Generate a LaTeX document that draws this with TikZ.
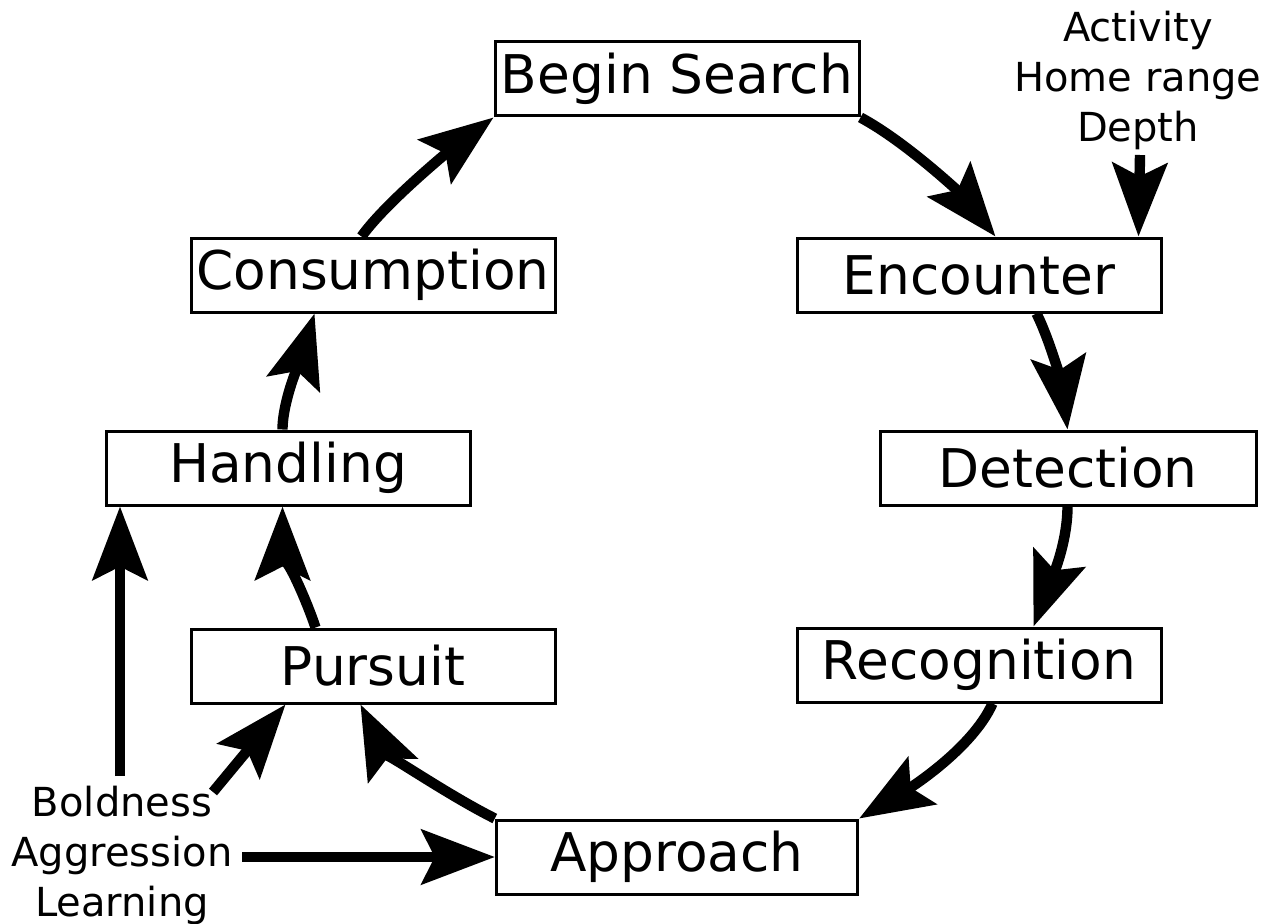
\documentclass[tikz,border=0pt]{standalone}
\usepackage{fontspec}
\setmainfont{DejaVu Sans}
\usetikzlibrary{arrows.meta,calc}
\begin{document}
\begin{tikzpicture}[x=0.75pt,y=-0.75pt,
  box/.style={draw,line width=2.25pt,minimum width=273pt,minimum height=55.5pt,inner sep=0pt,font=\fontsize{40}{48}\selectfont},
  lbl/.style={align=center,font=\fontsize{30}{37.5}\selectfont,inner sep=0pt},
  arr/.style={line width=7.8pt,-{Stealth[length=55pt,width=41pt,inset=10pt]}}]
\useasboundingbox (0,0) rectangle (1282,924);
% boxes
\node[box] (bs)  at (677,79)  {Begin Search};
\node[box] (enc) at (979,275) {Encounter};
\node[box] (con) at (373,275) {Consumption};
\node[box] (han) at (288,468) {Handling};
\node[box,minimum width=282pt] (det) at (1068,468) {Detection};
\node[box] (pur) at (373,666) {Pursuit};
\node[box] (rec) at (979,665) {Recognition};
\node[box,minimum width=271pt] (app) at (677,857) {Approach};
% labels
\node[lbl] (top) at (1138,80) {Activity\\Home range\\Depth};
\node[lbl] (left) at (122,855) {Boldness\\Aggression\\Learning};
\coordinate (dstart) at (1140,155);
\coordinate (bstart) at (213,792);
\coordinate (astart) at (242,857);
\coordinate (vstart) at (120,776);
% cycle arrows
\draw[arr] (bs.south east) .. controls +(45,24) and +(-35,-43) .. ($(enc.north west)+(200,0)$);
\draw[arr] ($(enc.south west)+(241,0)$) .. controls +(15,30) and +(-5,-40) .. ($(det.north west)+(189,0)$);
\draw[arr] ($(det.south west)+(189,0)$) .. controls +(0,40) and +(15,-40) .. ($(rec.north west)+(238,0)$);
\draw[arr] ($(rec.south west)+(197,0)$) .. controls +(-20,45) and +(50,-30) .. (app.north east);
\draw[arr] (app.north west) .. controls +(-50,-25) and +(22,45) .. ($(pur.south west)+(171,0)$);
\draw[arr] ($(pur.north west)+(126,0)$) .. controls +(-10,-30) and +(0,40) .. ($(han.south west)+(178,0)$);
\draw[arr] ($(han.north west)+(178,0)$) .. controls +(0,-30) and +(-12,40) .. ($(con.south west)+(125,0)$);
\draw[arr] ($(con.north west)+(172,0)$) .. controls +(25,-35) and +(-40,30) .. (bs.south west);
% influence arrows
\draw[arr] (dstart) -- ($(enc.north west)+(343,0)$);
\draw[arr] (bstart) -- ($(pur.south west)+(96,0)$);
\draw[arr] (astart) -- (app.west);
\draw[arr] (vstart) -- ($(han.south west)+(15.5,0)$);
\end{tikzpicture}
\end{document}
